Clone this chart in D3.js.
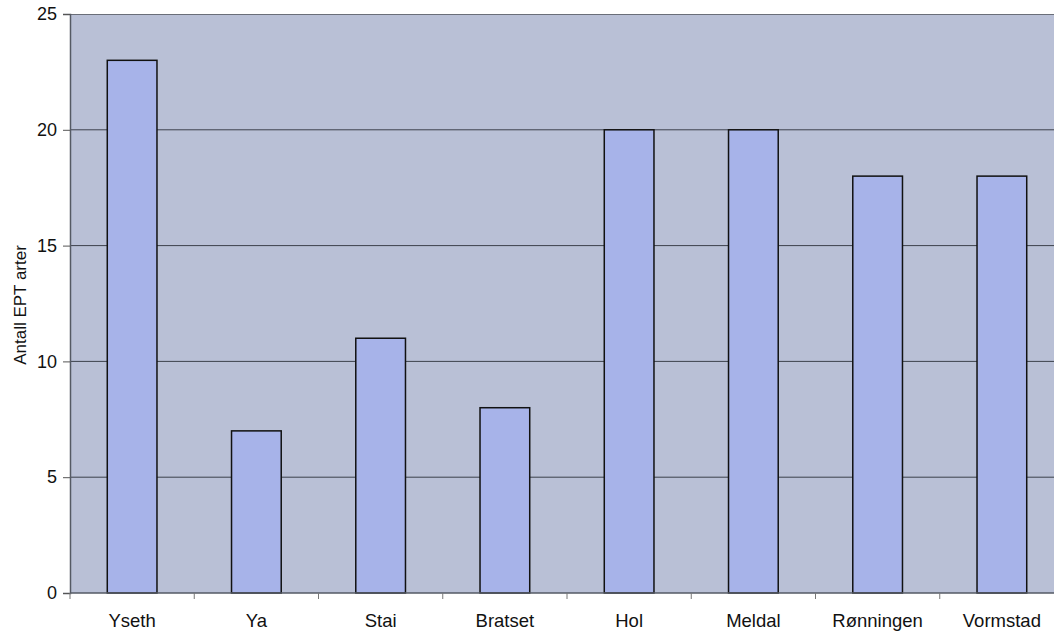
<!DOCTYPE html>
<html><head><meta charset="utf-8">
<script src="https://cdn.jsdelivr.net/npm/d3@7"></script>
<style>body{margin:0;background:#fff}svg{display:block}</style>
</head><body>
<script>
const categories = ["Yseth","Ya","Stai","Bratset","Hol","Meldal","Rønningen","Vormstad"];
const values = [23,7,11,8,20,20,18,18];
const yTicks = [0,5,10,15,20,25];
const yTitle = "Antall EPT arter";

const W = 1054, H = 633;
const m = {left:70, top:14, right:-10, bottom:40};
const svg = d3.select("body").append("svg").attr("width",W).attr("height",H);
const x = d3.scaleBand().domain(categories).range([m.left, W - m.right]).paddingInner(0.6).paddingOuter(0.3);
const y = d3.scaleLinear().domain([0,25]).range([H - m.bottom, m.top]);
const font = "'Liberation Sans', Arial, sans-serif";

svg.append("rect").attr("x",m.left).attr("y",m.top).attr("width",W-m.left-m.right).attr("height",y(0)-m.top)
  .attr("fill","#b9c0d6");
svg.append("line").attr("x1",m.left).attr("x2",W).attr("y1",m.top+0.5).attr("y2",m.top+0.5).attr("stroke","#6a6e78").attr("stroke-width",1.2);

svg.append("g").selectAll("line").data(yTicks.filter(d=>d>0 && d<25)).join("line")
  .attr("x1",m.left).attr("x2",W).attr("y1",d=>y(d)).attr("y2",d=>y(d))
  .attr("stroke","#3c414c").attr("stroke-width",1);

svg.append("g").selectAll("rect").data(values).join("rect")
  .attr("x",(d,i)=>x(categories[i])).attr("width",x.bandwidth())
  .attr("y",d=>y(d)).attr("height",d=>y(0)-y(d))
  .attr("fill","#a7b3e9").attr("stroke","#111").attr("stroke-width",1.5);

const yAxis = svg.append("g").attr("transform",`translate(${m.left},0)`)
  .call(d3.axisLeft(y).tickValues(yTicks).tickSize(7).tickPadding(6));
yAxis.select(".domain").attr("stroke","#555a64").attr("stroke-width",1.5);
yAxis.selectAll(".tick line").attr("stroke","#555");
yAxis.selectAll("text").attr("font-family",font).attr("font-size",18).attr("fill","#111");

const step = x.step();
const xBound = d3.range(categories.length+1).map(i => m.left + i*step);
svg.append("line").attr("x1",m.left).attr("x2",W).attr("y1",y(0)).attr("y2",y(0)).attr("stroke","#555a64").attr("stroke-width",1.5);
svg.append("g").selectAll("line").data(xBound).join("line")
  .attr("x1",d=>d).attr("x2",d=>d).attr("y1",y(0)).attr("y2",y(0)+6).attr("stroke","#777");

svg.append("g").selectAll("text").data(categories).join("text")
  .attr("x",d=>x(d)+x.bandwidth()/2).attr("y",y(0)+34)
  .attr("text-anchor","middle").attr("font-family",font).attr("font-size",18.5).attr("fill","#111").text(d=>d);

svg.append("text").attr("transform",`translate(26,${305}) rotate(-90)`)
  .attr("text-anchor","middle").attr("font-family",font).attr("font-size",17).attr("fill","#111").text(yTitle);
</script>
</body></html>
